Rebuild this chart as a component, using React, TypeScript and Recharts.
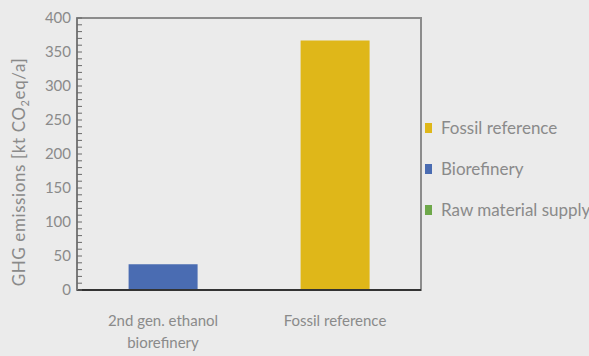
import { Bar, BarChart, Legend, ReferenceArea, XAxis, YAxis } from "recharts";

const categories = ["2nd gen. ethanol\nbiorefinery", "Fossil reference"];
const rawMaterialSupply = [0, 0];
const biorefinery = [38, 0];
const fossilReference = [0, 367];

const majorTicks = [0, 50, 100, 150, 200, 250, 300, 350, 400];
// minor tick marks every 10 units along the value axis
const allTicks = Array.from({ length: 41 }, (_, i) => i * 10);

const COLORS = {
  fossil: "#dfb719",
  bio: "#4a6cb2",
  raw: "#6ea84a",
};
const TEXT = "#8a8a8a";
const FONT = "Lato, 'Open Sans', sans-serif";

const legendItems = [
  { label: "Fossil reference", color: COLORS.fossil },
  { label: "Biorefinery", color: COLORS.bio },
  { label: "Raw material supply", color: COLORS.raw },
];

const data = categories.map((name, i) => ({
  name,
  raw: rawMaterialSupply[i],
  bio: biorefinery[i],
  fossil: fossilReference[i],
}));

function YTick({ x, y, payload }: { x?: number; y?: number; payload?: { value: number } }) {
  const v = payload?.value ?? 0;
  if (!majorTicks.includes(v)) return <g />;
  return (
    <text x={x} y={(y ?? 0) + 5} textAnchor="end" fill={TEXT} fontSize={15} fontFamily={FONT}>
      {v}
    </text>
  );
}

function XTick({ x, y, payload }: { x?: number; y?: number; payload?: { value: string } }) {
  const lines = String(payload?.value ?? "").split("\n");
  return (
    <g>
      {lines.map((line, i) => (
        <text
          key={i}
          x={x}
          y={(y ?? 0) + 28 + i * 22}
          textAnchor="middle"
          fill={TEXT}
          fontSize={15}
          fontFamily={FONT}
        >
          {line}
        </text>
      ))}
    </g>
  );
}

function YLabel() {
  return (
    <text
      transform="translate(25,172) rotate(-90)"
      textAnchor="middle"
      fill={TEXT}
      fontSize={17}
      letterSpacing={0.6}
      fontFamily={FONT}
    >
      GHG emissions [kt CO
      <tspan fontSize={11} dy={4}>2</tspan>
      <tspan dy={-4}>eq/a]</tspan>
    </text>
  );
}

function ChartLegend() {
  return (
    <div style={{ fontFamily: FONT, color: TEXT, fontSize: 17, whiteSpace: "nowrap" }}>
      {legendItems.map((item) => (
        <div key={item.label} style={{ display: "flex", alignItems: "center", height: 41 }}>
          <span style={{ width: 7, height: 10, background: item.color, marginRight: 9, flex: "none" }} />
          <span>{item.label}</span>
        </div>
      ))}
    </div>
  );
}

export default function App() {
  return (
    <div style={{ position: "absolute", left: 0, top: 0, width: 589, height: 356, background: "#ebebeb" }}>
      <BarChart
        width={589}
        height={356}
        data={data}
        barCategoryGap="30%"
        margin={{ top: 18, right: 4, left: 0, bottom: 36 }}
      >
        <ReferenceArea
          y1={0}
          y2={400}
          fill="none"
          stroke="#8c8c8c"
          strokeWidth={2}
          ifOverflow="visible"
        />
        <XAxis
          dataKey="name"
          interval={0}
          height={30}
          tickLine={false}
          axisLine={{ stroke: "#333", strokeWidth: 2 }}
          tick={<XTick />}
        />
        {/* negative tick size puts the tick marks inside the plot */}
        <YAxis
          width={77}
          domain={[0, 400]}
          ticks={allTicks}
          interval={0}
          tickLine={{ stroke: "#6a6a6a", strokeWidth: 1 }}
          tickSize={-5}
          tickMargin={11}
          axisLine={{ stroke: "#7a7a7a", strokeWidth: 2 }}
          tick={<YTick />}
          label={<YLabel />}
        />
        <Legend
          layout="vertical"
          align="right"
          verticalAlign="top"
          content={<ChartLegend />}
          wrapperStyle={{ left: 425, top: 107, width: 164 }}
        />
        <Bar dataKey="raw" stackId="a" fill={COLORS.raw} isAnimationActive={false} />
        <Bar dataKey="bio" stackId="a" fill={COLORS.bio} isAnimationActive={false} />
        <Bar dataKey="fossil" stackId="a" fill={COLORS.fossil} isAnimationActive={false} />
      </BarChart>
    </div>
  );
}
